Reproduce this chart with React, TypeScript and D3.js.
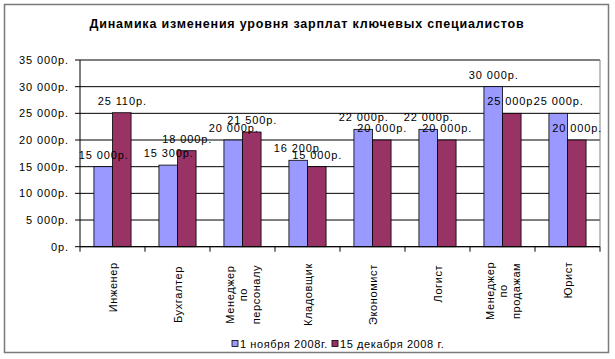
import React from "react";
import * as d3 from "d3";

// chart data
const categories = [
  ["Инженер"],
  ["Бухгалтер"],
  ["Менеджер", "по", "персоналу"],
  ["Кладовщик"],
  ["Экономист"],
  ["Логист"],
  ["Менеджер", "по", "продажам"],
  ["Юрист"],
];
const seriesNames = ["1 ноября 2008г.", "15 декабря 2008 г."];
const novValues = [15000, 15300, 20000, 16200, 22000, 22000, 30000, 25000];
const decValues = [25110, 18000, 21500, 15000, 20000, 20000, 25000, 20000];
const yTicks = [0, 5000, 10000, 15000, 20000, 25000, 30000, 35000];
const colors = ["#9999FF", "#993366"];

const W = 615;
const H = 359;
const margin = { top: 60, right: 15, bottom: 112.3, left: 80 };
const font = "'Liberation Sans', Arial, sans-serif";

const fmt = (v: number) =>
  (v === 0 ? "0" : d3.format(",")(v).replace(/,/g, " ")) + "р.";

export default function App() {
  const x = d3
    .scaleBand<number>()
    .domain(d3.range(categories.length))
    .range([margin.left, W - margin.right]);
  const inner = d3
    .scaleBand<number>()
    .domain([0, 1])
    .range([0, x.bandwidth()])
    .paddingInner(0)
    .paddingOuter(0.75);
  const y = d3
    .scaleLinear()
    .domain([0, 35000])
    .range([H - margin.bottom, margin.top]);

  const series = [novValues, decValues];
  const x0 = margin.left;
  const x1 = W - margin.right;
  const yBase = y(0);

  return (
    <div style={{ position: "absolute", left: 0, top: 0 }}>
      <svg width={W} height={H} style={{ display: "block", fontFamily: font }}>
        <rect x={0} y={0} width={W} height={H} fill="#fff" />
        <rect x={4.5} y={4.5} width={604} height={348} fill="#fff" stroke="#7a7a7a" strokeWidth={1.5} />
        <text x={307} y={28} textAnchor="middle" fontSize={12.5} fontWeight="bold" letterSpacing={0.8} fill="#000">
          Динамика изменения уровня зарплат ключевых специалистов
        </text>

        {/* gridlines */}
        {yTicks.map((t) => (
          <line key={t} x1={x0} x2={x1} y1={y(t)} y2={y(t)} stroke="#000" strokeWidth={1} />
        ))}
        <line x1={x1} x2={x1} y1={y(35000)} y2={yBase} stroke="#808080" />

        {/* bars */}
        {series.map((vals, s) =>
          vals.map((v, i) => (
            <rect
              key={`${s}-${i}`}
              x={x(i)! + inner(s)!}
              y={y(v)}
              width={inner.bandwidth()}
              height={yBase - y(v)}
              fill={colors[s]}
              stroke="#000"
              strokeWidth={0.8}
            />
          ))
        )}

        {/* value labels */}
        {series.map((vals, s) =>
          vals.map((v, i) => (
            <text
              key={`l${s}-${i}`}
              x={x(i)! + inner(s)! + inner.bandwidth() / 2 + 0.5}
              y={y(v) - 8}
              textAnchor="middle"
              fontSize={11}
              letterSpacing={0.9}
              fill="#000"
            >
              {fmt(v)}
            </text>
          ))
        )}

        {/* y axis */}
        <line x1={x0} x2={x0} y1={y(35000)} y2={yBase} stroke="#000" />
        {yTicks.map((t) => (
          <g key={`yt${t}`}>
            <line x1={x0 - 5} x2={x0} y1={y(t)} y2={y(t)} stroke="#000" />
            <text x={x0 - 11} y={y(t) + 4} textAnchor="end" fontSize={11} letterSpacing={0.9} fill="#000">
              {fmt(t)}
            </text>
          </g>
        ))}

        {/* x axis */}
        <line x1={x0} x2={x1} y1={yBase} y2={yBase} stroke="#000" />
        {d3.range(categories.length + 1).map((i) => {
          const xx = i < categories.length ? x(i)! : x1;
          return <line key={`xt${i}`} x1={xx} x2={xx} y1={yBase} y2={yBase + 5} stroke="#000" />;
        })}
        {categories.map((lines, i) => {
          const cx = x(i)! + x.bandwidth() / 2;
          const lh = 13;
          const top = yBase + 15;
          const maxLen = d3.max(lines, (l) => l.length)!;
          const mid = top + maxLen * 3.65;
          return (
            <g key={`xl${i}`}>
              {lines.map((l, j) => {
                const lx = cx + (j - (lines.length - 1) / 2) * lh + 4;
                return (
                  <text
                    key={j}
                    transform={`translate(${lx},${mid}) rotate(-90)`}
                    textAnchor="middle"
                    fontSize={11}
                    letterSpacing={0.6}
                    fill="#000"
                  >
                    {l}
                  </text>
                );
              })}
            </g>
          );
        })}

        {/* legend */}
        {seriesNames.map((n, s) => {
          const lx = s === 0 ? 232 : 332;
          return (
            <g key={`lg${s}`}>
              <rect x={lx} y={340.5} width={6} height={6} fill={colors[s]} stroke="#000" strokeWidth={0.8} />
              <text x={lx + 8} y={347.5} fontSize={11} letterSpacing={0.6} fill="#000">
                {n}
              </text>
            </g>
          );
        })}
      </svg>
    </div>
  );
}
